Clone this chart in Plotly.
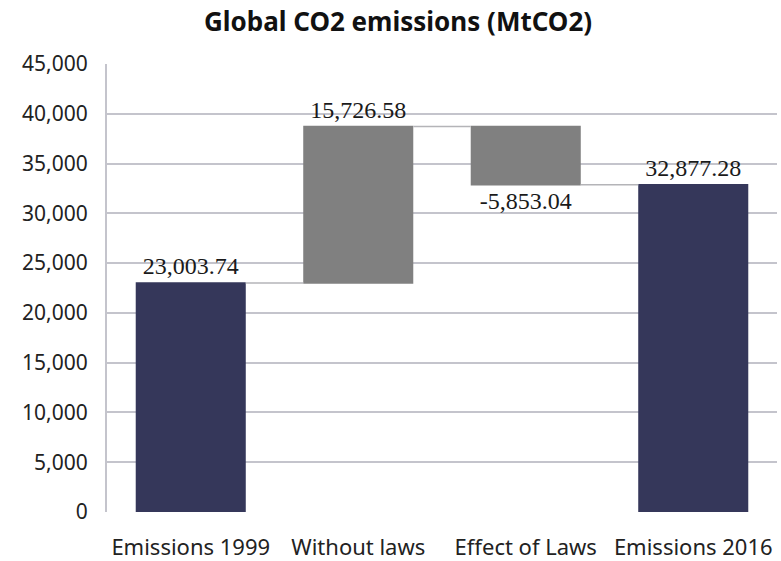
import plotly.graph_objects as go

categories = ["Emissions 1999", "Without laws", "Effect of Laws", "Emissions 2016"]
measures = ["absolute", "relative", "relative", "total"]
values = [23003.74, 15726.58, -5853.04, 0]
label_templates = ["%{final:,.2f}", "%{delta:,.2f}", "%{delta:,.2f}", "%{final:,.2f}"]
y_ticks = [0, 5000, 10000, 15000, 20000, 25000, 30000, 35000, 40000, 45000]
y_tick_text = [f"{v:,}" for v in y_ticks]

NAVY = "#35375a"
GRAY = "#808080"
GRID = "#c4c4cc"

W, H = 781, 561

fig = go.Figure(go.Waterfall(
    x=categories,
    y=values,
    measure=measures,
    texttemplate=label_templates,
    textposition="outside",
    textfont=dict(family="Liberation Serif", size=24, color="#1a1a1a"),
    increasing=dict(marker=dict(color=GRAY)),
    decreasing=dict(marker=dict(color=GRAY)),
    totals=dict(marker=dict(color=NAVY)),
    connector=dict(mode="between", line=dict(color="#b4b4b8", width=1.5)),
    cliponaxis=False,
    hoverinfo="skip",
))

fig.update_layout(
    width=W, height=H,
    margin=dict(l=107, r=4, t=64, b=49, autoexpand=False),
    paper_bgcolor="white", plot_bgcolor="white",
    showlegend=False,
    waterfallgap=0.343,
    title=dict(text="<b>Global CO2 emissions (MtCO2)</b>", x=398 / W, xanchor="center",
               xref="container", y=1 - 22 / H, yref="container", yanchor="middle",
               font=dict(family="Noto Sans", size=26, color="#111111")),
    font=dict(family="Noto Sans", color="#222222"),
)
fig.update_yaxes(
    range=[0, 45000], tickvals=y_ticks, ticktext=y_tick_text,
    showgrid=True, gridcolor=GRID, gridwidth=2,
    zeroline=False, showline=True, linecolor=GRID, linewidth=2,
    ticks="", ticklabelstandoff=13, automargin=False,
    tickfont=dict(family="Noto Sans", size=21, color="#222222"),
)
fig.update_xaxes(
    showgrid=False, showline=False, ticks="", ticklabelstandoff=20, automargin=False,
    tickfont=dict(family="Noto Sans", size=22, color="#222222"),
)
fig.write_html("out.html", config={"displayModeBar": False},
               post_script="document.body.style.margin='0';")
